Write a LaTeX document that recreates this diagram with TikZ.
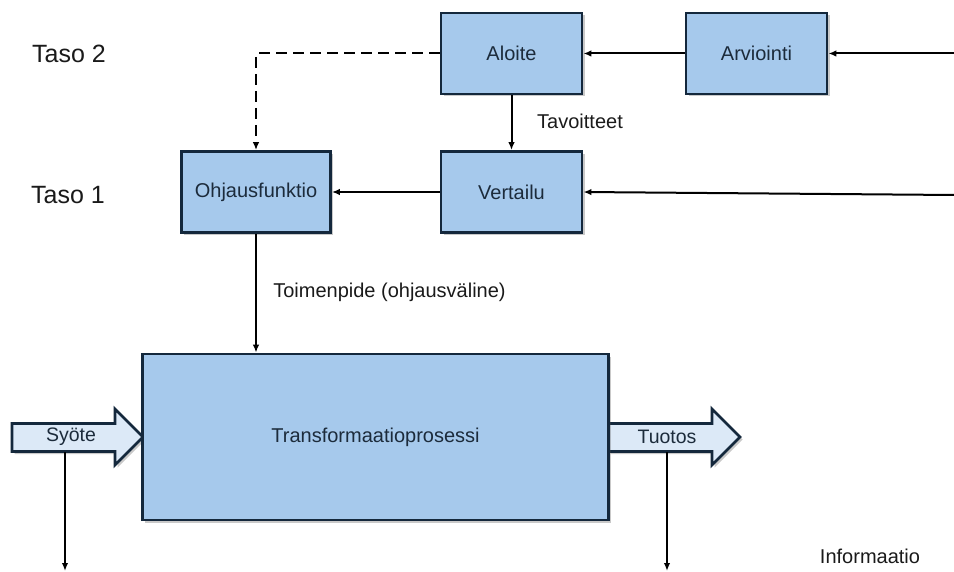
\documentclass[tikz,border=0pt]{standalone}
\usepackage{fontspec}
\setmainfont{Liberation Sans}
\usetikzlibrary{arrows.meta,shadows}
\definecolor{boxfill}{HTML}{A6C9EC}
\definecolor{boxline}{HTML}{14283C}
\definecolor{arrowfill}{HTML}{DCE9F7}
\definecolor{boxtext}{HTML}{1C2B3B}
\definecolor{labeltext}{HTML}{1A1A1A}
\begin{document}
\begin{tikzpicture}[x=1pt,y=-1pt,
  softshadow/.style={drop shadow={shadow xshift=2.5pt, shadow yshift=-2.5pt, opacity=0.3, fill=black!70}},
  box/.style={draw=boxline, line width=2.8pt, fill=boxfill, text=boxtext,
    font=\fontsize{20}{24}\selectfont, softshadow},
  blockarrow/.style={draw=boxline, line width=2.8pt, fill=arrowfill, line join=miter, softshadow},
  conn/.style={line width=2pt, draw=black, -{Latex[length=8pt,width=6.5pt]}},
  dashconn/.style={conn, dash pattern=on 11pt off 6pt},
  lbl/.style={text=labeltext, font=\fontsize{20}{24}\selectfont, inner sep=0pt},
  level/.style={text=labeltext, font=\fontsize{25}{30}\selectfont, inner sep=0pt},
  arrowtext/.style={text=boxtext, font=\fontsize{19.5}{23}\selectfont, inner sep=0pt}
]
\useasboundingbox (0,0) rectangle (954,572);

% level labels
\node[level] (taso2) at (69,54) {Taso 2};
\node[level] (taso1) at (68,195) {Taso 1};

% input and output block arrows, drawn below the process box
\draw[blockarrow] (608,423.5) -- (712,423.5) -- (712,409) -- (740,437)
  -- (712,465) -- (712,451.5) -- (608,451.5) -- cycle;
\draw[blockarrow] (12,423.5) -- (115,423.5) -- (115,409) -- (143,437)
  -- (115,465) -- (115,451.5) -- (12,451.5) -- cycle;

% blocks
\node[box, minimum width=141pt, minimum height=81pt] (aloite) at (511.5,53.5) {Aloite};
\node[box, minimum width=141pt, minimum height=81pt] (arviointi) at (756.5,53.5) {Arviointi};
\node[box, minimum width=141pt, minimum height=81pt] (vertailu) at (511.5,192) {Vertailu};
\node[box, minimum width=149pt, minimum height=81pt] (ohjaus) at (256,192) {Ohjausfunktio};
\node[box, minimum width=466pt, minimum height=166pt] (trans) at (375.5,437) {Transformaatioprosessi};

% block arrow texts
\node[arrowtext] (syote) at (71,437) {Syöte};
\node[arrowtext] (tuotos) at (667,437) {Tuotos};

% free ends of the information lines
\coordinate (inA) at (954,53.5);
\coordinate (inV) at (954,195);
\coordinate (syoteTop) at (65,452);
\coordinate (syoteEnd) at (65,571);
\coordinate (tuotosTop) at (667,452);
\coordinate (tuotosEnd) at (667,571);

% connectors
\draw[conn] (inA) -- (arviointi.east);
\draw[conn] (arviointi.west) -- (aloite.east);
\draw[conn] (aloite.south) -- (vertailu.north);
\draw[conn] (inV) -- (vertailu.east);
\draw[conn] (vertailu.west) -- (ohjaus.east);
\draw[dashconn] (aloite.west) -| (ohjaus.north);
\draw[conn] (ohjaus.south) -- (ohjaus.south |- trans.north);
\draw[conn] (syoteTop) -- (syoteEnd);
\draw[conn] (tuotosTop) -- (tuotosEnd);

% connector labels
\node[lbl] (tavoitteet) at (580,121) {Tavoitteet};
\node[lbl] (toimenpide) at (389.5,292) {Toimenpide (ohjausväline)};
\node[lbl] (informaatio) at (870,556) {Informaatio};
\end{tikzpicture}
\end{document}
